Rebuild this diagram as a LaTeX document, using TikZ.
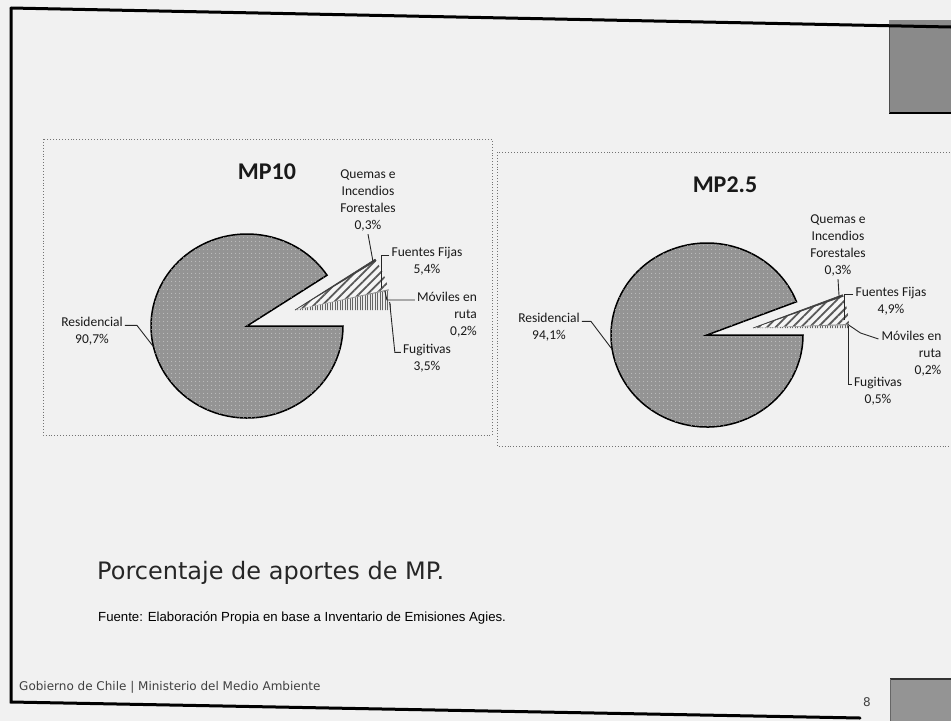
\documentclass[tikz,border=0pt]{standalone}
\usepackage{fontspec}
\setmainfont{Liberation Sans}
\newfontfamily\chartfont{Carlito}
\newfontfamily\capfont{DejaVu Sans}
\usetikzlibrary{patterns,patterns.meta}
\definecolor{paper}{RGB}{241,241,241}
\definecolor{resgray}{RGB}{148,148,148}
\definecolor{boxgray}{RGB}{138,138,138}
\newcommand\myslice[3]{\path[#1] (0,0) -- (#2:96 and 92) arc[start angle=#2, end angle=#3, x radius=96, y radius=92] -- cycle;}
\begin{document}
\begin{tikzpicture}[x=1pt,y=-1pt,
  frame/.style={line width=3pt, line cap=round},
  chartbox/.style={draw=black!55, dotted, line width=0.9pt},
  resid/.style={fill=resgray, draw=black, line width=1.5pt,
     postaction={pattern={Dots[distance=4pt,radius=0.5pt]}, pattern color=white!70!gray}},
  fuentes/.style={fill=white!92!gray,
     postaction={pattern={Lines[angle=45,distance=6pt,line width=1.8pt]}, pattern color=black!65}},
  fugit/.style={fill=white!85!gray,
     postaction={pattern={Lines[angle=90,distance=2.5pt,line width=0.9pt]}, pattern color=black!60}},
  quemas/.style={fill=black!75, draw=black!75, line width=0.6pt},
  moviles/.style={fill=black!45},
  lbl/.style={font=\chartfont\fontsize{13.5}{16.8}\selectfont, text=black!90, inner sep=0pt, align=center},
  lblr/.style={lbl, align=right},
  ttl/.style={font=\chartfont\bfseries\fontsize{24}{28}\selectfont, text=black!90, inner sep=0pt},
  leader/.style={draw=black!85, line width=0.9pt},
  capt/.style={font=\capfont\fontsize{24}{28}\selectfont, text=black!85, inner sep=0pt},
  srcst/.style={font=\fontsize{13.2}{15}\selectfont, text=black, inner sep=0pt},
  foot/.style={font=\capfont\fontsize{12}{14}\selectfont, text=black!75, inner sep=0pt}
]
\useasboundingbox (0,0) rectangle (951,721);
\fill[paper] (0,0) rectangle (951,721);

% gray corner boxes
\fill[boxgray] (889,20) rectangle (951,113);
\draw[line width=2.5pt] (889,113) -- (951,113);
\draw[line width=1pt, black!70] (889,27) -- (889,113);
\fill[resgray] (890,679) rectangle (951,721);
\draw[line width=1.5pt, black!80] (890,679) -- (951,679);
\draw[line width=0.8pt, black!60] (890,679) -- (890,721);

% page frame
\draw[frame] (11,8) -- (951,27);
\draw[frame] (11,8) -- (11,702) -- (860,718);

% chart boxes
\draw[chartbox] (43,139) rectangle (492,435);
\draw[chartbox] (497,152) rectangle (960,446);

% ---------- MP10 ----------
\node[ttl] (t10) at (267,172) {MP10};
\begin{scope}[shift={(247,326)}, yscale=-1]
  \myslice{resid}{33.5}{360}
  \coordinate (re10) at (193:96 and 92);
  \begin{scope}[shift={(48,16)}]
    \myslice{fuentes}{13}{32.4}
    \myslice{fugit}{0}{12.3}
    \myslice{moviles}{12.3}{13}
    \myslice{quemas}{32.4}{33.5}
    \coordinate (qe10) at (33:93 and 89);
    \coordinate (fe10) at (15:90 and 86);
    \coordinate (me10) at (12.6:92 and 88);
    \coordinate (ge10) at (5:95 and 91);
  \end{scope}
\end{scope}
\node[lbl] (q10) at (368,200.5) {Quemas e\\Incendios\\Forestales\\0,3\%};
\node[lbl] (f10) at (427,261.5) {Fuentes Fijas\\5,4\%};
\node[lblr] (m10) at (447,314.5) {Móviles en\\ruta\\0,2\%};
\node[lbl] (g10) at (427,358.5) {Fugitivas\\3,5\%};
\node[lbl] (r10) at (92,331.5) {Residencial\\90,7\%};
\draw[leader] ([yshift=-3pt]q10.south) -- (qe10);
\draw[leader] ([shift={(-2pt,-8pt)}]f10.north west) -| (fe10);
\draw[leader] ([shift={(-2pt,-8pt)}]m10.north west) -- ++(-28pt,0pt) -- (me10);
\draw[leader] ([shift={(-2pt,-8pt)}]g10.north west) -- ++(-6pt,0pt) -- (ge10);
\draw[leader] ([shift={(2pt,-8pt)}]r10.north east) -- ++(12pt,0pt) -- (re10);

% ---------- MP2.5 ----------
\node[ttl] (t25) at (725,185) {MP2.5};
\begin{scope}[shift={(707,335)}, yscale=-1]
  \myslice{resid}{21.2}{360}
  \coordinate (re25) at (189:96 and 92);
  \begin{scope}[shift={(46,7)}]
    \myslice{fuentes}{2.5}{20.1}
    \myslice{fugit}{0}{1.8}
    \myslice{moviles}{1.8}{2.5}
    \myslice{quemas}{20.1}{21.2}
    \coordinate (qe25) at (20.6:92 and 88);
    \coordinate (fe25) at (5:92 and 88);
    \coordinate (me25) at (2.2:95 and 91);
    \coordinate (ge25) at (1:95 and 91);
  \end{scope}
\end{scope}
\node[lbl] (q25) at (838,245.5) {Quemas e\\Incendios\\Forestales\\0,3\%};
\node[lbl] (f25) at (891,301) {Fuentes Fijas\\4,9\%};
\node[lblr] (m25) at (911.5,353.5) {Móviles en\\ruta\\0,2\%};
\node[lbl] (g25) at (878,391) {Fugitivas\\0,5\%};
\node[lbl] (r25) at (549,327.5) {Residencial\\94,1\%};
\draw[leader] ([yshift=-3pt]q25.south) -- (qe25);
\draw[leader] ([shift={(-2pt,-8pt)}]f25.north west) -| (fe25);
\draw[leader] ([shift={(-3pt,-8pt)}]m25.north west) -- ++(-18pt,6pt) -- (me25);
\draw[leader] ([shift={(-2pt,-8pt)}]g25.north west) -| (ge25);
\draw[leader] ([shift={(2pt,-8pt)}]r25.north east) -- ++(9pt,0pt) -- (re25);

% ---------- caption and footer ----------
\node[capt, anchor=west] (cap) at (97,573) {Porcentaje de aportes de MP.};
\node[srcst, anchor=west] (src) at (98,618) {Fuente: Elaboración Propia en base a Inventario de Emisiones Agies.};
\node[foot, anchor=west] (gob) at (19,687) {Gobierno de Chile | Ministerio del Medio Ambiente};
\node[foot] (pg) at (867,702) {8};
\end{tikzpicture}
\end{document}
